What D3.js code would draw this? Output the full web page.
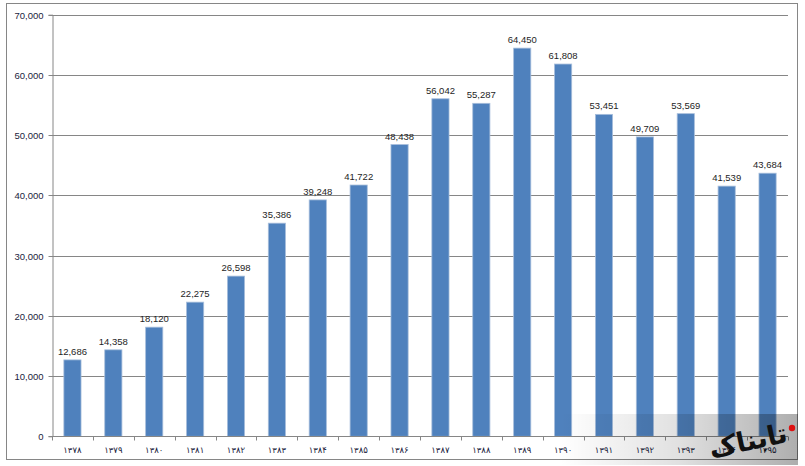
<!DOCTYPE html>
<html>
<head>
<meta charset="utf-8">
<script src="https://cdn.jsdelivr.net/npm/d3@7"></script>
<style>
  html, body { margin: 0; padding: 0; background: #fff; }
  svg { display: block; }
</style>
</head>
<body>
<svg id="chart" width="805" height="466"></svg>
<script>
const categories = ['۱۳۷۸','۱۳۷۹','۱۳۸۰','۱۳۸۱','۱۳۸۲','۱۳۸۳','۱۳۸۴','۱۳۸۵','۱۳۸۶','۱۳۸۷','۱۳۸۸','۱۳۸۹','۱۳۹۰','۱۳۹۱','۱۳۹۲','۱۳۹۳','۱۳۹۴','۱۳۹۵'];
const values = [12686,14358,18120,22275,26598,35386,39248,41722,48438,56042,55287,64450,61808,53451,49709,53569,41539,43684];
const yTicks = [0,10000,20000,30000,40000,50000,60000,70000];

(function () {
const svg = d3.select('#chart');
const pLeft = 52, pRight = 788, pTop = 14.7, pBottom = 436.3;
const font = '"Liberation Sans", Arial, sans-serif';

const x = d3.scaleBand().domain(categories).range([pLeft, pRight]).paddingInner(0.58).paddingOuter(0.29);
const y = d3.scaleLinear().domain([0, 70000]).range([pBottom, pTop]);
const fmt = d3.format(',');

// outer border
svg.append('rect').attr('x', 6.5).attr('y', 3.5).attr('width', 791).attr('height', 456)
  .attr('fill', '#fff').attr('stroke', '#868686').attr('stroke-width', 1);

// gridlines
svg.append('g').selectAll('line').data(yTicks).join('line')
  .attr('x1', pLeft).attr('x2', pRight)
  .attr('y1', d => Math.round(y(d)) + 0.5).attr('y2', d => Math.round(y(d)) + 0.5)
  .attr('stroke', '#868686').attr('stroke-width', 1);

// y axis
const yAxis = svg.append('g').attr('transform', `translate(${pLeft + 0.5},0)`)
  .call(d3.axisLeft(y).tickValues(yTicks).tickFormat(fmt).tickSize(4).tickPadding(5));
yAxis.select('.domain').attr('stroke', '#868686');
yAxis.selectAll('.tick line').attr('stroke', '#868686');
yAxis.selectAll('.tick text').attr('font-family', font).attr('font-size', '9.5px').attr('fill', '#1b2440');
yAxis.selectAll('.tick').attr('transform', d => `translate(0,${Math.round(y(d)) + 0.5})`);

// bars
svg.append('g').selectAll('rect').data(values).join('rect')
  .attr('x', (d, i) => x(categories[i]))
  .attr('y', d => y(d))
  .attr('width', x.bandwidth())
  .attr('height', d => y(0) - y(d))
  .attr('fill', '#4F81BD')
  .attr('stroke', '#A7BEDB').attr('stroke-width', 0.8);

// x axis line
svg.append('line').attr('x1', pLeft).attr('x2', pRight)
  .attr('y1', Math.round(y(0)) + 0.5).attr('y2', Math.round(y(0)) + 0.5)
  .attr('stroke', '#868686');

// x ticks at band boundaries
const bounds = d3.range(categories.length + 1).map(i => pLeft + i * x.step());
svg.append('g').selectAll('line').data(bounds).join('line')
  .attr('x1', d => Math.round(d) + 0.5).attr('x2', d => Math.round(d) + 0.5)
  .attr('y1', Math.round(y(0)) + 0.5).attr('y2', Math.round(y(0)) + 4.5)
  .attr('stroke', '#868686');

// x labels
svg.append('g').selectAll('text').data(categories).join('text')
  .attr('x', d => x(d) + x.bandwidth() / 2)
  .attr('y', 453)
  .attr('text-anchor', 'middle')
  .attr('direction', 'ltr')
  .attr('font-family', '"DejaVu Sans", "Noto Sans", sans-serif')
  .attr('font-size', '8.5px')
  .attr('fill', '#1b2440')
  .text(d => d);

// data labels
svg.append('g').selectAll('text').data(values).join('text')
  .attr('x', (d, i) => x(categories[i]) + x.bandwidth() / 2)
  .attr('y', d => y(d) - 5)
  .attr('text-anchor', 'middle')
  .attr('font-family', font)
  .attr('font-size', '9.5px')
  .attr('fill', '#1e1e1e')
  .text(d => fmt(d));

// watermark
const defs = svg.append('defs');
const grad = defs.append('linearGradient').attr('id', 'wm').attr('x1', 0).attr('x2', 1).attr('y1', 0).attr('y2', 0);
grad.append('stop').attr('offset', '0%').attr('stop-color', '#000').attr('stop-opacity', 0);
grad.append('stop').attr('offset', '50%').attr('stop-color', '#000').attr('stop-opacity', 0.12);
grad.append('stop').attr('offset', '100%').attr('stop-color', '#000').attr('stop-opacity', 0.32);
svg.append('rect').attr('x', 560).attr('y', 414).attr('width', 238).attr('height', 51).attr('fill', 'url(#wm)');
const logo = svg.append('g').attr('transform', 'translate(750,450) rotate(-12)');
logo.append('text').attr('text-anchor', 'middle').attr('direction', 'rtl')
  .attr('font-family', '"DejaVu Sans", "Noto Sans", sans-serif').attr('font-weight', 'bold')
  .attr('font-size', '27px').attr('fill', '#111')
  .text('تابناک');
svg.append('circle').attr('cx', 792).attr('cy', 428).attr('r', 3.2).attr('fill', '#d11');
})();
</script>
</body>
</html>
